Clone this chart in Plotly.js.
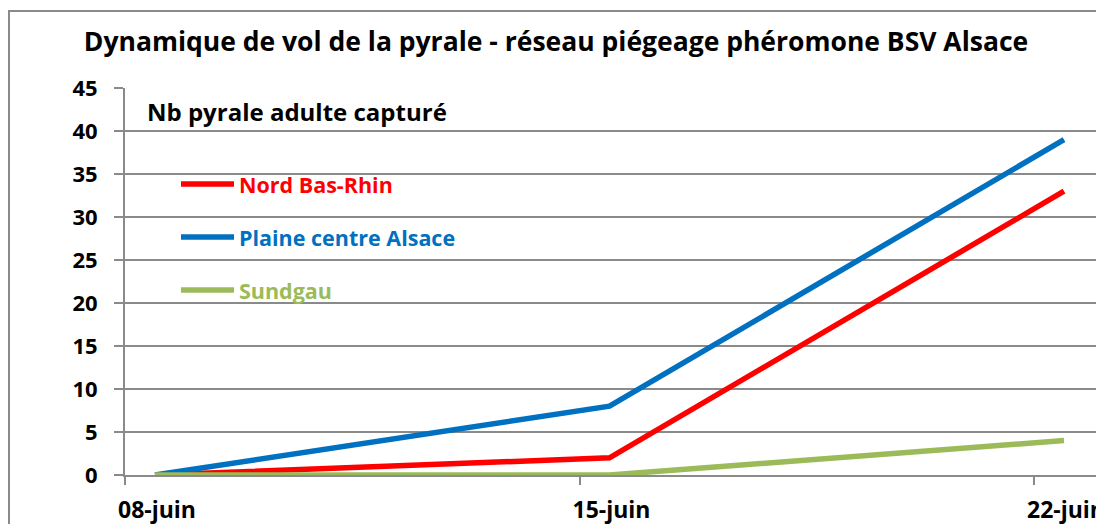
<!DOCTYPE html>
<html>
<head>
<meta charset="utf-8">
<script src="https://cdn.plot.ly/plotly-3.0.1.min.js"></script>
<style>
  html, body { margin: 0; padding: 0; overflow: hidden; background: #fff; }
  #frame { position: absolute; left: 8px; top: 10px; width: 1200px; height: 700px; border: 2px solid #8a8a8a; }
  #chart { position: absolute; left: 0; top: 0; width: 1120px; height: 540px; }
</style>
</head>
<body>
<div id="frame"></div>
<div id="chart"></div>
<script>
// ---- data ----
const categories = ["08-juin", "15-juin", "22-juin"];
const seriesNames = ["Nord Bas-Rhin", "Plaine centre Alsace", "Sundgau"];
const nordBasRhin = [0, 2, 33];
const plaineCentreAlsace = [0, 8, 39];
const sundgau = [0, 0, 4];
const chartTitle = "Dynamique de vol de la pyrale - réseau piégeage phéromone BSV Alsace";
const yAxisLabel = "Nb pyrale adulte capturé";

// ---- style ----
const colors = ["#FF0000", "#0070C0", "#9BBB59"];
const W = 1120, H = 540;
const L = 125, T = 88, B = 475;       // plot area pixels
const plotW = W - L;
const plotH = B - T;
const px = x => (x - L) / plotW;
const py = y => (B - y) / plotH;
const FONT = "Open Sans, Noto Sans, sans-serif";

const xIdx = categories.map((c, i) => i);
const allSeries = [nordBasRhin, plaineCentreAlsace, sundgau];

const traces = allSeries.map((vals, i) => ({
  x: xIdx, y: vals, type: "scatter", mode: "lines",
  name: seriesNames[i],
  line: { color: colors[i], width: 5.5 },
  hoverinfo: "skip", showlegend: false
}));

const unit = 454.5;                 // px per category step
const x0 = -30 / unit;              // axis starts half a day before first point
const xr = [x0, x0 + plotW / unit];

const legendY = [184, 237, 290];
const shapes = legendY.map((y, i) => ({
  type: "line", xref: "paper", yref: "paper",
  x0: px(181), x1: px(234), y0: py(y), y1: py(y),
  line: { color: colors[i], width: 5.5 }
}));
const annotations = legendY.map((y, i) => ({
  xref: "paper", yref: "paper", x: px(237), y: py(y),
  xanchor: "left", yanchor: "middle", showarrow: false,
  text: "<b>" + seriesNames[i] + "</b>",
  font: { family: FONT, size: 21.5, color: colors[i] }
}));
annotations.push({
  xref: "paper", yref: "paper", x: px(145), y: py(111),
  xanchor: "left", yanchor: "middle", showarrow: false,
  text: "<b>" + yAxisLabel + "</b>",
  font: { family: FONT, size: 24, color: "#000" }
});

const layout = {
  width: W, height: H,
  margin: { l: L, r: 0, t: T, b: H - B, pad: 0 },
  paper_bgcolor: "rgba(0,0,0,0)", plot_bgcolor: "rgba(0,0,0,0)",
  title: {
    text: "<b>" + chartTitle + "</b>",
    xref: "container", yref: "container",
    x: 556 / W, y: 1 - 42 / H, xanchor: "center", yanchor: "middle",
    font: { family: FONT, size: 26.5, color: "#000" }
  },
  xaxis: {
    range: xr, showgrid: false, zeroline: false,
    showline: true, linecolor: "#8a8a8a", linewidth: 2,
    tickmode: "array", tickvals: xIdx.map(v => v + x0), ticktext: categories.map(c => "<b>" + c + "</b>"),
    ticks: "outside", ticklen: 8, tickwidth: 2, tickcolor: "#8a8a8a",
    ticklabelshift: 32, ticklabelstandoff: 5,
    tickfont: { family: FONT, size: 23, color: "#000" }
  },
  yaxis: {
    range: [0, 45], tick0: 0, dtick: 5,
    showgrid: true, gridcolor: "#8a8a8a", gridwidth: 2,
    zeroline: false, showline: true, linecolor: "#8a8a8a", linewidth: 2,
    ticks: "outside", ticklen: 9, tickwidth: 2, tickcolor: "#8a8a8a",
    ticklabelstandoff: 12,
    tickfont: { family: FONT, size: 22, color: "#000" },
    tickprefix: "<b>", ticksuffix: "</b>"
  },
  shapes: shapes,
  annotations: annotations,
  showlegend: false
};

Plotly.newPlot("chart", traces, layout, { staticPlot: true, displayModeBar: false });
</script>
</body>
</html>
